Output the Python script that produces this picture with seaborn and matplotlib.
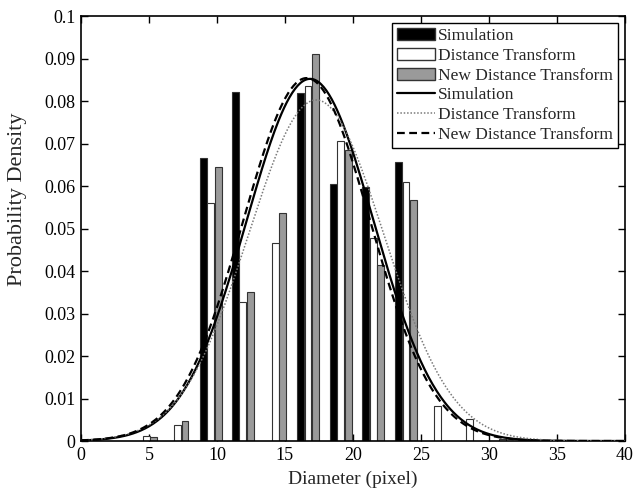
import numpy as np
import pandas as pd
import seaborn as sns
import matplotlib.pyplot as plt
from matplotlib.patches import Patch
from matplotlib.lines import Line2D

# bin centres (group positions) and histogram heights
bin_centres = [4.8, 7.1, 9.55, 11.9, 14.3, 16.7, 19.1, 21.5, 23.9, 26.25, 28.6, 31.0]
sim_hist = [0.0, 0.0, 0.0665, 0.0821, 0.0, 0.0819, 0.0604, 0.0599, 0.0657, 0.0, 0.0, 0.0]
dt_hist = [0.0011, 0.0038, 0.0560, 0.0328, 0.0467, 0.0835, 0.0706, 0.0478, 0.0610, 0.0082, 0.0052, 0.0005]
ndt_hist = [0.0010, 0.0046, 0.0645, 0.0351, 0.0536, 0.0912, 0.0685, 0.0414, 0.0567, 0.0, 0.0, 0.0]

# fitted normal curves: (mean, std) read from the peaks / widths
fit_names = ["Simulation", "Distance Transform", "New Distance Transform"]
fit_mean = [16.85, 17.3, 16.6]
fit_std = [4.68, 4.97, 4.67]

sns.set_theme(style="ticks")
plt.rcParams['font.family'] = ['Liberation Serif', 'DejaVu Serif']

fig = plt.figure(figsize=(6.33, 4.9), dpi=100)
ax = fig.add_axes([0.128, 0.1, 0.859, 0.867])

offset = 0.55
bar_w = 0.5
series = [(sim_hist, -offset, "black"), (dt_hist, 0.0, "white"), (ndt_hist, offset, "#9a9a9a")]
for vals, off, col in series:
    df = pd.DataFrame({"x": np.array(bin_centres) + off, "y": vals})
    df = df[df["y"] > 0]
    ax.bar(df["x"], df["y"], width=bar_w, color=col, edgecolor="#333333", linewidth=0.8, zorder=2)

xs = np.linspace(0, 40, 400)
styles = [dict(color="black", lw=1.6, ls="-"),
          dict(color="#7a7a7a", lw=1.1, ls=(0, (1, 1.2))),
          dict(color="black", lw=1.6, ls=(0, (3.5, 2)))]
for name, mu, sd, st in zip(fit_names, fit_mean, fit_std, styles):
    pdf = np.exp(-(xs - mu) ** 2 / (2 * sd ** 2)) / (sd * np.sqrt(2 * np.pi))
    sns.lineplot(x=xs, y=pdf, ax=ax, color=st["color"], linewidth=st["lw"], linestyle=st["ls"], zorder=3)

ax.set_xlim(0, 40)
ax.set_ylim(0, 0.1)
ax.set_xticks(range(0, 41, 5))
ax.set_yticks(np.arange(0, 0.101, 0.01))
ax.set_yticklabels(["0", "0.01", "0.02", "0.03", "0.04", "0.05", "0.06", "0.07", "0.08", "0.09", "0.1"])
ax.tick_params(direction="in", top=True, right=True, length=5, width=1, labelsize=13,
               colors="black", pad=4)
for sp in ax.spines.values():
    sp.set_linewidth(1.2)
    sp.set_color("black")
ax.set_xlabel("Diameter (pixel)", fontsize=14, labelpad=5)
ax.set_ylabel("Probability Density", fontsize=16, labelpad=6)
ax.yaxis.set_label_coords(-0.1, 0.57)

handles = [Patch(facecolor="black", edgecolor="#333333", label="Simulation"),
           Patch(facecolor="white", edgecolor="#333333", label="Distance Transform"),
           Patch(facecolor="#9a9a9a", edgecolor="#333333", label="New Distance Transform"),
           Line2D([], [], color="black", lw=1.6, label="Simulation"),
           Line2D([], [], color="#7a7a7a", lw=1.1, ls=(0, (1, 1.2)), label="Distance Transform"),
           Line2D([], [], color="black", lw=1.6, ls=(0, (3.5, 2)), label="New Distance Transform")]
leg = ax.legend(handles=handles, loc="upper right", fontsize=12.5, frameon=True, fancybox=False,
                edgecolor="black", framealpha=1, labelspacing=0.2, handlelength=2.2,
                handletextpad=0.15, borderpad=0.3, borderaxespad=0.4)
leg.get_frame().set_linewidth(1.0)

plt.savefig("out.png", dpi=100)
plt.close()
